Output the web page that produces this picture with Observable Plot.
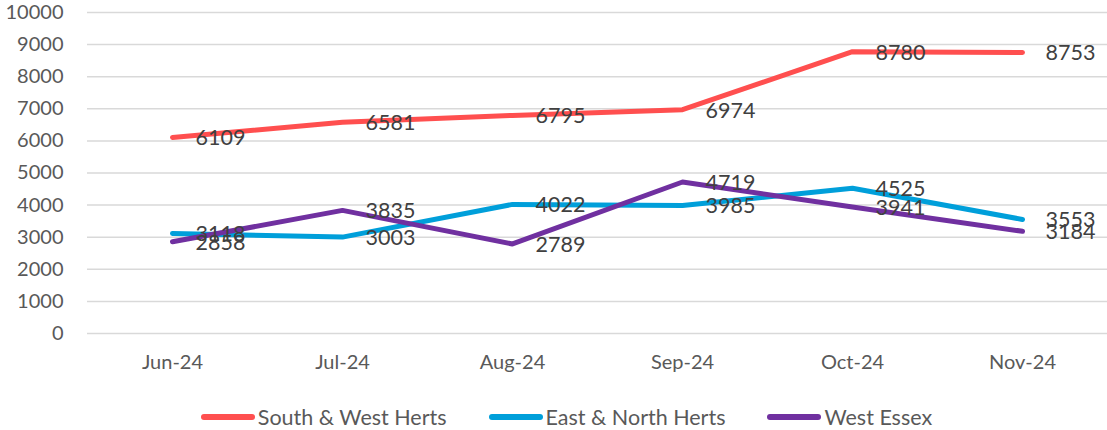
<!DOCTYPE html>
<html>
<head>
<meta charset="utf-8">
<script src="https://cdn.jsdelivr.net/npm/d3@7"></script>
<script src="https://cdn.jsdelivr.net/npm/@observablehq/plot@0.6"></script>
<style>
  body { margin: 0; background: #fff; font-family: Lato, "Open Sans", sans-serif; }
  #chart svg { display: block; }
  .legend { display: flex; justify-content: center; align-items: center; height: 50px; padding-left: 26px; color: #595959; font-size: 21.5px; font-family: Lato, sans-serif; }
  .legend .item { display: flex; align-items: center; margin: 0 21px; }
  .legend .sw { width: 54px; height: 6px; border-radius: 3px; margin-right: 3px; }
</style>
</head>
<body>
<div id="chart"></div>
<script>
const months = ["Jun-24", "Jul-24", "Aug-24", "Sep-24", "Oct-24", "Nov-24"];
const seriesNames = ["South & West Herts", "East & North Herts", "West Essex"];
const southWest = [6109, 6581, 6795, 6974, 8780, 8753];
const eastNorth = [3118, 3003, 4022, 3985, 4525, 3553];
const westEssex = [2858, 3835, 2789, 4719, 3941, 3184];
const colors = ["#FF4F4F", "#009FDA", "#7030A0"];
const yTicks = [0, 1000, 2000, 3000, 4000, 5000, 6000, 7000, 8000, 9000, 10000];

const allSeries = [southWest, eastNorth, westEssex];
const data = allSeries.flatMap((vals, si) =>
  vals.map((v, i) => ({series: seriesNames[si], month: months[i], value: v})));

const plot = Plot.plot({
  width: 1107,
  height: 392,
  marginTop: 12,
  marginBottom: 59,
  marginLeft: 87,
  marginRight: 0,
  style: {fontFamily: "Lato, sans-serif", background: "#fff", overflow: "visible"},
  x: {type: "point", domain: months, padding: 0.5, label: null},
  y: {domain: [0, 10000], label: null},
  color: {domain: seriesNames, range: colors},
  marks: [
    Plot.gridY(yTicks, {stroke: "#d9d9d9", strokeOpacity: 1, strokeWidth: 1.5}),
    Plot.axisY(yTicks, {tickSize: 0, tickPadding: 24, fontSize: 20, fill: "#595959", label: null, tickFormat: d => String(d)}),
    Plot.axisX(months, {tickSize: 0, tickPadding: 21, fontSize: 20, fill: "#595959", label: null}),
    Plot.line(data, {x: "month", y: "value", z: "series", stroke: "series", strokeWidth: 5, strokeLinecap: "round", strokeLinejoin: "round"}),
    Plot.text(data, {x: "month", y: "value", text: d => String(d.value), textAnchor: "start", dx: 23, dy: 1, fontSize: 21.5, fill: "#404040"})
  ]
});
document.getElementById("chart").append(plot);

const legend = document.createElement("div");
legend.className = "legend";
seriesNames.forEach((name, i) => {
  const item = document.createElement("div");
  item.className = "item";
  const sw = document.createElement("div");
  sw.className = "sw";
  sw.style.background = colors[i];
  const label = document.createElement("span");
  label.textContent = name;
  item.append(sw, label);
  legend.append(item);
});
document.body.append(legend);
</script>
</body>
</html>
